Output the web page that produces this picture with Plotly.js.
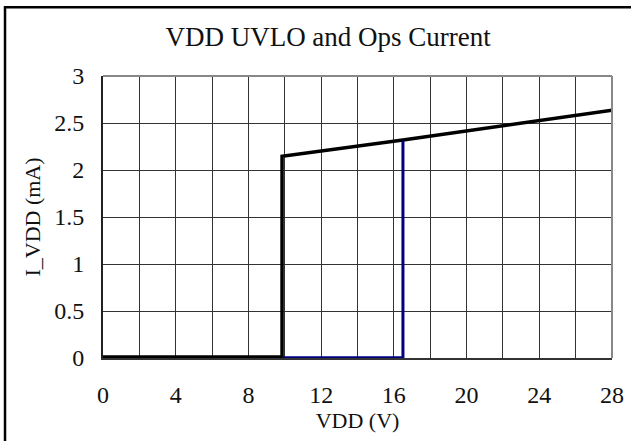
<!DOCTYPE html>
<html>
<head>
<meta charset="utf-8">
<script src="https://cdn.plot.ly/plotly-3.0.1.min.js"></script>
<style>html,body{margin:0;padding:0;background:#fff;}#chart{width:631px;height:441px;}</style>
</head>
<body>
<div id="chart"></div>
<script>
// Data
const offX = [0, 9.85, 9.85, 16.5, 28];
const offY = [0.01, 0.01, 2.145, 2.32, 2.635];
const onX = [9.9, 16.5, 16.5];
const onY = [0.003, 0.003, 2.31];

const xTickVals = [0, 2, 4, 6, 8, 10, 12, 14, 16, 18, 20, 22, 24, 26, 28];
const xTickText = ['0', '', '4', '', '8', '', '12', '', '16', '', '20', '', '24', '', '28'];
const yTickVals = [0, 0.5, 1, 1.5, 2, 2.5, 3];
const yTickText = ['0', '0.5', '1', '1.5', '2', '2.5', '3'];

const serif = '"Liberation Serif", "DejaVu Serif", serif';

const traces = [
  {x: offX, y: offY, mode: 'lines', line: {color: '#000000', width: 3.5}, cliponaxis: false, hoverinfo: 'skip', showlegend: false},
  {x: onX, y: onY, mode: 'lines', line: {color: '#000080', width: 3}, cliponaxis: false, hoverinfo: 'skip', showlegend: false}
];

const layout = {
  width: 631, height: 441,
  margin: {l: 103, r: 19, t: 76, b: 83},
  paper_bgcolor: '#ffffff', plot_bgcolor: '#ffffff',
  showlegend: false,
  title: {text: 'VDD UVLO and Ops Current', x: 0.52, xanchor: 'center', y: 0.916, yanchor: 'middle',
          font: {family: serif, size: 27, color: '#111'}},
  xaxis: {
    range: [0, 28], tickvals: xTickVals, ticktext: xTickText,
    showgrid: true, gridcolor: '#333', gridwidth: 1,
    showline: true, linecolor: '#333', linewidth: 2, zeroline: false,
    layer: 'below traces',
    ticks: '', ticklabelstandoff: 14,
    tickfont: {family: serif, size: 24, color: '#111'},
    title: {text: 'VDD (V)', standoff: 2, font: {family: serif, size: 22, color: '#111'}}
  },
  yaxis: {
    range: [0, 3], tickvals: yTickVals, ticktext: yTickText,
    showgrid: true, gridcolor: '#333', gridwidth: 1,
    showline: true, linecolor: '#222', linewidth: 2, zeroline: false,
    layer: 'below traces',
    ticks: 'outside', ticklen: 12, tickcolor: 'rgba(0,0,0,0)', ticklabelstandoff: 0,
    tickfont: {family: serif, size: 24, color: '#111'},
    title: {text: 'I_VDD (mA)', standoff: 8, font: {family: serif, size: 22, color: '#111'}}
  },
  shapes: [
    {type: 'line', xref: 'paper', yref: 'paper', x0: 0, x1: 1, y0: 1, y1: 1, line: {color: '#888', width: 2}},
    {type: 'line', xref: 'paper', yref: 'paper', x0: 1, x1: 1, y0: 0, y1: 1, line: {color: '#888', width: 2}},
    {type: 'rect', xref: 'paper', yref: 'paper', x0: -0.1925, x1: 1.1, y0: -0.4, y1: 1.2436, line: {color: '#000', width: 2.5}, fillcolor: 'rgba(0,0,0,0)', layer: 'above'}
  ]
};

Plotly.newPlot('chart', traces, layout, {staticPlot: true, displayModeBar: false});
</script>
</body>
</html>
